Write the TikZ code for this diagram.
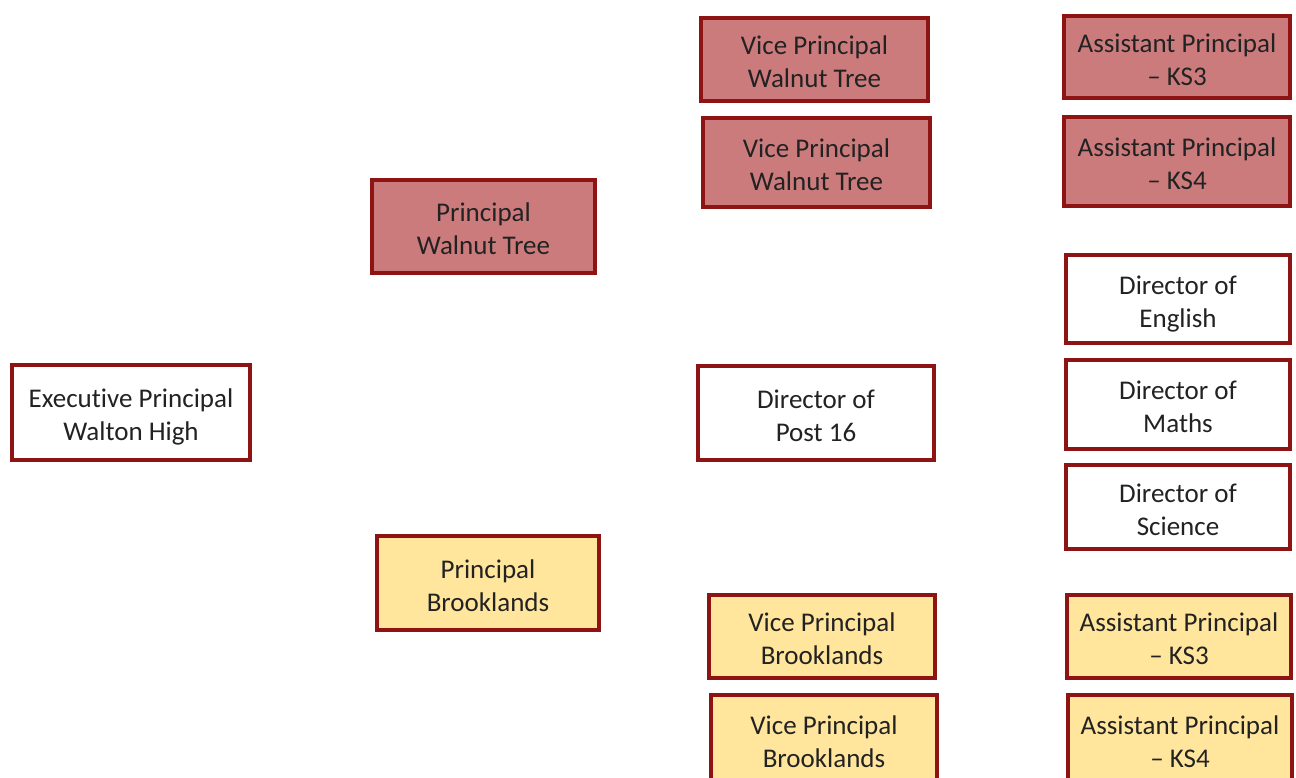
\documentclass[tikz,border=0pt]{standalone}
\usepackage{fontspec}
\setmainfont{Carlito}[Ligatures={NoCommon}]
\definecolor{bordred}{HTML}{8E1414}
\definecolor{fillred}{HTML}{CC7B7D}
\definecolor{fillyel}{HTML}{FFE69C}
\definecolor{txt}{HTML}{222222}
\newcommand\twoline[2]{\raisebox{0pt}[\dimexpr\height+10pt\relax][\depth]{\begin{tabular}{@{}c@{}}#1\\#2\end{tabular}}}
\begin{document}
\begin{tikzpicture}[x=1pt,y=-1pt,
  box/.style={draw=bordred, line width=3.6pt, inner sep=0pt,
    text=txt, font=\fontsize{27}{33}\selectfont},
  redbox/.style={box, fill=fillred},
  yelbox/.style={box, fill=fillyel},
  whitebox/.style={box, fill=white}]
\useasboundingbox (0,0) rectangle (1296,778);
\clip (0,0) rectangle (1296,778);
\node[whitebox, minimum width=238pt, minimum height=95pt] (exec) at (131,412.5) {\twoline{Executive Principal}{Walton High}};
\node[redbox, minimum width=223pt, minimum height=93pt] (pwt) at (483.5,226.5) {\twoline{Principal}{Walnut Tree}};
\node[yelbox, minimum width=222pt, minimum height=94pt] (pb) at (488,583) {\twoline{Principal}{Brooklands}};
\node[redbox, minimum width=227pt, minimum height=83pt] (vp1) at (814.5,59.5) {\twoline{Vice Principal}{Walnut Tree}};
\node[redbox, minimum width=227pt, minimum height=89pt] (vp2) at (816.5,162.5) {\twoline{Vice Principal}{Walnut Tree}};
\node[whitebox, minimum width=236pt, minimum height=94pt] (d16) at (816,413) {\twoline{Director of}{Post 16}};
\node[yelbox, minimum width=226pt, minimum height=83pt] (vpb1) at (822,636.5) {\twoline{Vice Principal}{Brooklands}};
\node[yelbox, minimum width=226pt, minimum height=88pt] (vpb2) at (824,739) {\twoline{Vice Principal}{Brooklands}};
\node[redbox, minimum width=226pt, minimum height=82pt] (ap3) at (1177,57) {\twoline{Assistant Principal}{– KS3}};
\node[redbox, minimum width=226pt, minimum height=89pt] (ap4) at (1177,161.5) {\twoline{Assistant Principal}{– KS4}};
\node[whitebox, minimum width=224pt, minimum height=88pt] (de) at (1178,299) {\twoline{Director of}{English}};
\node[whitebox, minimum width=224pt, minimum height=89pt] (dm) at (1178,404.5) {\twoline{Director of}{Maths}};
\node[whitebox, minimum width=224pt, minimum height=84pt] (ds) at (1178,507) {\twoline{Director of}{Science}};
\node[yelbox, minimum width=224pt, minimum height=83pt] (apb3) at (1179,636.5) {\twoline{Assistant Principal}{– KS3}};
\node[yelbox, minimum width=224pt, minimum height=88pt] (apb4) at (1180,739) {\twoline{Assistant Principal}{– KS4}};
\end{tikzpicture}
\end{document}
